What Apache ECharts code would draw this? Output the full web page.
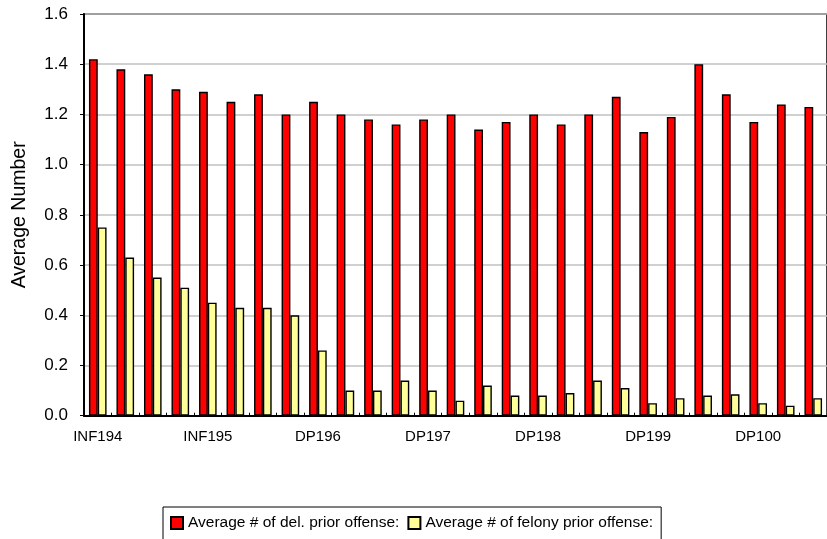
<!DOCTYPE html>
<html>
<head>
<meta charset="utf-8">
<script src="https://cdn.jsdelivr.net/npm/echarts@6/dist/echarts.min.js"></script>
<style>html,body{margin:0;padding:0;background:#fff;}#c{width:827px;height:539px;}</style>
</head>
<body>
<div id="c"></div>
<script>
var tickLabels = ['INF194', 'INF195', 'DP196', 'DP197', 'DP198', 'DP199', 'DP100'];
var categories = [
  'INF194 Q1','INF194 Q2','INF194 Q3','INF194 Q4',
  'INF195 Q1','INF195 Q2','INF195 Q3','INF195 Q4',
  'DP196 Q1','DP196 Q2','DP196 Q3','DP196 Q4',
  'DP197 Q1','DP197 Q2','DP197 Q3','DP197 Q4',
  'DP198 Q1','DP198 Q2','DP198 Q3','DP198 Q4',
  'DP199 Q1','DP199 Q2','DP199 Q3','DP199 Q4',
  'DP100 Q1','DP100 Q2','DP100 Q3'
];
var delPrior = [1.42,1.38,1.36,1.30,1.29,1.25,1.28,1.20,1.25,1.20,1.18,1.16,1.18,1.20,1.14,1.17,1.20,1.16,1.20,1.27,1.13,1.19,1.40,1.28,1.17,1.24,1.23];
var felonyPrior = [0.75,0.63,0.55,0.51,0.45,0.43,0.43,0.40,0.26,0.10,0.10,0.14,0.10,0.06,0.12,0.08,0.08,0.09,0.14,0.11,0.05,0.07,0.08,0.085,0.05,0.04,0.07];
var seriesNames = ['Average # of del. prior offense:', 'Average # of felony prior offense:'];

var chart = echarts.init(document.getElementById('c'));
var font = 'Liberation Sans, Arial, sans-serif';
chart.setOption({
  animation: false,
  textStyle: { fontFamily: font, color: '#000' },
  grid: {
    left: 84, top: 14, width: 750, height: 401.7,
    show: true, borderColor: '#000', borderWidth: 1.5, backgroundColor: 'transparent'
  },
  legend: {
    left: 163, top: 507,
    orient: 'horizontal',
    itemWidth: 12, itemHeight: 12, itemGap: 8,
    icon: 'rect',
    padding: [8, 8, 40, 7],
    borderColor: '#000', borderWidth: 1,
    textStyle: { fontFamily: font, fontSize: 15.5, color: '#000' },
    data: seriesNames
  },
  xAxis: {
    type: 'category',
    data: categories,
    boundaryGap: true,
    axisLine: { lineStyle: { color: '#000', width: 2 } },
    axisTick: { show: true, inside: true, length: 3, interval: 0, lineStyle: { color: '#000', width: 1 } },
    axisLabel: {
      interval: 3, margin: 14, fontSize: 15, color: '#000', fontFamily: font,
      formatter: function (v, i) { return tickLabels[i / 4] || ''; }
    },
    splitLine: { show: false }
  },
  yAxis: {
    type: 'value',
    min: 0, max: 1.6, interval: 0.2,
    name: 'Average Number',
    nameLocation: 'middle',
    nameGap: 54,
    nameTextStyle: { fontSize: 19.5, color: '#000', fontFamily: font },
    axisLine: { show: true, lineStyle: { color: '#000', width: 2 } },
    axisTick: { show: true, inside: false, length: 4, lineStyle: { color: '#000', width: 1 } },
    axisLabel: {
      margin: 16, fontSize: 17, color: '#000', fontFamily: font,
      formatter: function (v) { return v.toFixed(1); }
    },
    splitLine: { show: true, lineStyle: { color: '#c0c0c0', width: 1.5 } }
  },
  series: [
    {
      name: seriesNames[0], type: 'bar', data: delPrior,
      barWidth: '32%', barGap: '0%',
      itemStyle: { color: '#ff0000', borderColor: '#000', borderWidth: 1.4 }
    },
    {
      name: seriesNames[1], type: 'bar', data: felonyPrior,
      barWidth: '32%', barGap: '0%',
      itemStyle: { color: '#ffff99', borderColor: '#000', borderWidth: 1.4 }
    }
  ]
});
</script>
</body>
</html>
